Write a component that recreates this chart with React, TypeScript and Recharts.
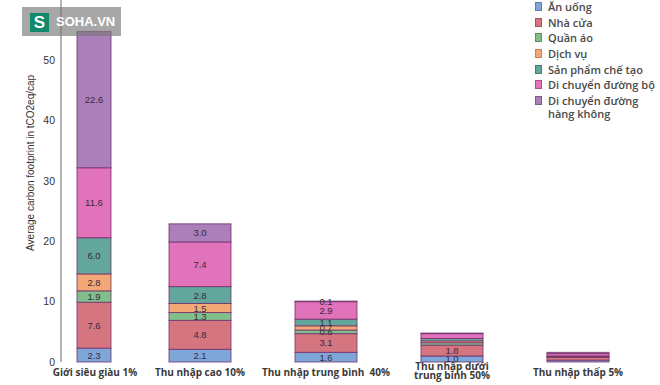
import { BarChart, Bar, XAxis, YAxis, Legend, Label } from 'recharts';

const categories = [
  'Giới siêu giàu 1%',
  'Thu nhập cao 10%',
  'Thu nhập trung bình  40%',
  'Thu nhập dưới\ntrung bình 50%',
  'Thu nhập thấp 5%',
];

const anUong = [2.3, 2.1, 1.6, 1.0, 0.3];
const nhaCua = [7.6, 4.8, 3.1, 1.8, 0.5];
const quanAo = [1.9, 1.3, 0.6, 0.4, 0.05];
const dichVu = [2.8, 1.5, 0.7, 0.3, 0.05];
const sanPham = [6.0, 2.8, 1.1, 0.4, 0.1];
const duongBo = [11.6, 7.4, 2.9, 0.8, 0.4];
const hangKhong = [22.6, 3.0, 0.1, 0.1, 0.2];

const yTicks = [0, 10, 20, 30, 40, 50];

const series = [
  { key: 'anUong', name: 'Ăn uống', values: anUong, color: '#7ea6d8', border: '#5b7fb3' },
  { key: 'nhaCua', name: 'Nhà cửa', values: nhaCua, color: '#d47580', border: '#a9505c' },
  { key: 'quanAo', name: 'Quần áo', values: quanAo, color: '#80be8a', border: '#569463' },
  { key: 'dichVu', name: 'Dịch vụ', values: dichVu, color: '#f5a877', border: '#cf8050' },
  { key: 'sanPham', name: 'Sản phẩm chế tạo', values: sanPham, color: '#62a69c', border: '#3f7f76' },
  { key: 'duongBo', name: 'Di chuyển đường bộ', values: duongBo, color: '#e073ba', border: '#b04d90' },
  { key: 'hangKhong', name: 'Di chuyển đường hàng không', values: hangKhong, color: '#aa7fba', border: '#7f5a91' },
];

const data = categories.map((name, i) => {
  const row: Record<string, string | number> = { name };
  series.forEach((s) => {
    row[s.key] = s.values[i];
  });
  return row;
});

// the first column is drawn narrower and nudged right, like in the source image
const FIRST_BAR = { dx: 34, width: 34 };
const EDGE = '#74306a';

const makeShape = (key: string) => (props: any) => {
  const { x, y, width, height, fill, index, payload } = props;
  if (height == null || width == null) return null;
  const bx = index === 0 ? x + FIRST_BAR.dx : x;
  const bw = index === 0 ? FIRST_BAR.width : width;
  const value = payload?.[key];
  const showLabel = index < 3 || value >= 1;
  return (
    <g>
      <rect x={bx} y={y} width={bw} height={Math.max(height, 0)} fill={fill} stroke={EDGE} strokeWidth={1} strokeOpacity={0.8} />
      {showLabel && (
        <text
          x={bx + bw / 2}
          y={y + height / 2}
          dy={3.5}
          textAnchor="middle"
          fontSize={9.5}
          fontFamily="'Liberation Sans', Arial, sans-serif"
          fill="#3a2a3a"
        >
          {Number(value).toFixed(1)}
        </text>
      )}
    </g>
  );
};

const XTick = ({ x, y, payload, index }: any) => {
  const lines = String(payload.value).split('\n');
  const cx = index === 0 ? x + 21 : x;
  const first = lines.length > 1 ? 0 : 6;
  return (
    <text
      x={cx}
      y={y}
      textAnchor="middle"
      fontSize={10}
      fontWeight={700}
      fontFamily="'Open Sans', sans-serif"
      fill="#3a3a3a"
      style={{ whiteSpace: 'pre' }}
    >
      {lines.map((line, i) => (
        <tspan key={i} x={cx} dy={i === 0 ? first : 9}>
          {line}
        </tspan>
      ))}
    </text>
  );
};

const renderYLabel = (props: any) => {
  const vb = props.viewBox || { x: 0, y: 0, width: 61, height: 362 };
  const cx = vb.x + 34;
  const cy = vb.y + vb.height * 0.45;
  return (
    <text
      x={cx}
      y={cy}
      transform={`rotate(-90, ${cx}, ${cy})`}
      textAnchor="middle"
      fontSize={10}
      fontFamily="'Liberation Sans', Arial, sans-serif"
      fill="#333"
    >
      Average carbon footprint in tCO2eq/cap
    </text>
  );
};

const renderLegend = () => (
  <div style={{ fontFamily: "'Open Sans', sans-serif", fontSize: 11, fontWeight: 600, color: '#4a4a4a' }}>
    {series.map((s) => (
      <div key={s.key} style={{ display: 'flex', alignItems: 'flex-start', lineHeight: '13px', marginBottom: 2.7 }}>
        <span
          style={{
            display: 'inline-block',
            width: 5,
            height: 7,
            marginTop: 2,
            marginRight: 6,
            background: s.color,
            border: `1px solid ${s.border}`,
            flexShrink: 0,
          }}
        />
        <span style={{ width: 108 }}>{s.name}</span>
      </div>
    ))}
  </div>
);

export default function App() {
  return (
    <div style={{ position: 'absolute', left: 0, top: 0, width: 660, height: 385, background: '#fff' }}>
      <BarChart width={660} height={385} data={data} margin={{ top: 0, right: 19, left: 0, bottom: 0 }} barSize={62}>
        <XAxis
          dataKey="name"
          axisLine={false}
          tickLine={false}
          height={23}
          interval={0}
          padding={{ left: -50, right: 0 }}
          tick={<XTick />}
        />
        <YAxis
          domain={[0, 60]}
          ticks={yTicks}
          width={61}
          axisLine={{ stroke: '#9a9a9a', strokeWidth: 1.5 }}
          tickLine={false}
          tickMargin={0}
          tick={{ fontSize: 10.5, fill: '#333', fontFamily: "'Liberation Sans', Arial, sans-serif" }}
        >
          <Label content={renderYLabel} />
        </YAxis>
        <Legend
          layout="vertical"
          verticalAlign="middle"
          align="center"
          content={renderLegend}
          wrapperStyle={{ left: 535, top: 0, width: 122 }}
        />
        {series.map((s) => (
          <Bar
            key={s.key}
            dataKey={s.key}
            name={s.name}
            stackId="a"
            fill={s.color}
            shape={makeShape(s.key)}
            isAnimationActive={false}
          />
        ))}
      </BarChart>
      <div
        style={{
          position: 'absolute',
          left: 22,
          top: 7,
          width: 99,
          height: 29,
          background: 'rgba(120,120,120,0.65)',
        }}
      >
        <div
          style={{
            position: 'absolute',
            left: 8,
            top: 6,
            width: 19,
            height: 19,
            background: '#12896c',
            color: '#fff',
            fontFamily: "'Liberation Sans', Arial, sans-serif",
            fontWeight: 700,
            fontSize: 17,
            lineHeight: '19px',
            textAlign: 'center',
          }}
        >
          S
        </div>
        <div
          style={{
            position: 'absolute',
            left: 34,
            top: 7,
            color: '#fff',
            fontFamily: "'Liberation Sans', Arial, sans-serif",
            fontWeight: 700,
            fontSize: 13,
            lineHeight: '16px',
          }}
        >
          SOHA.VN
        </div>
      </div>
    </div>
  );
}
